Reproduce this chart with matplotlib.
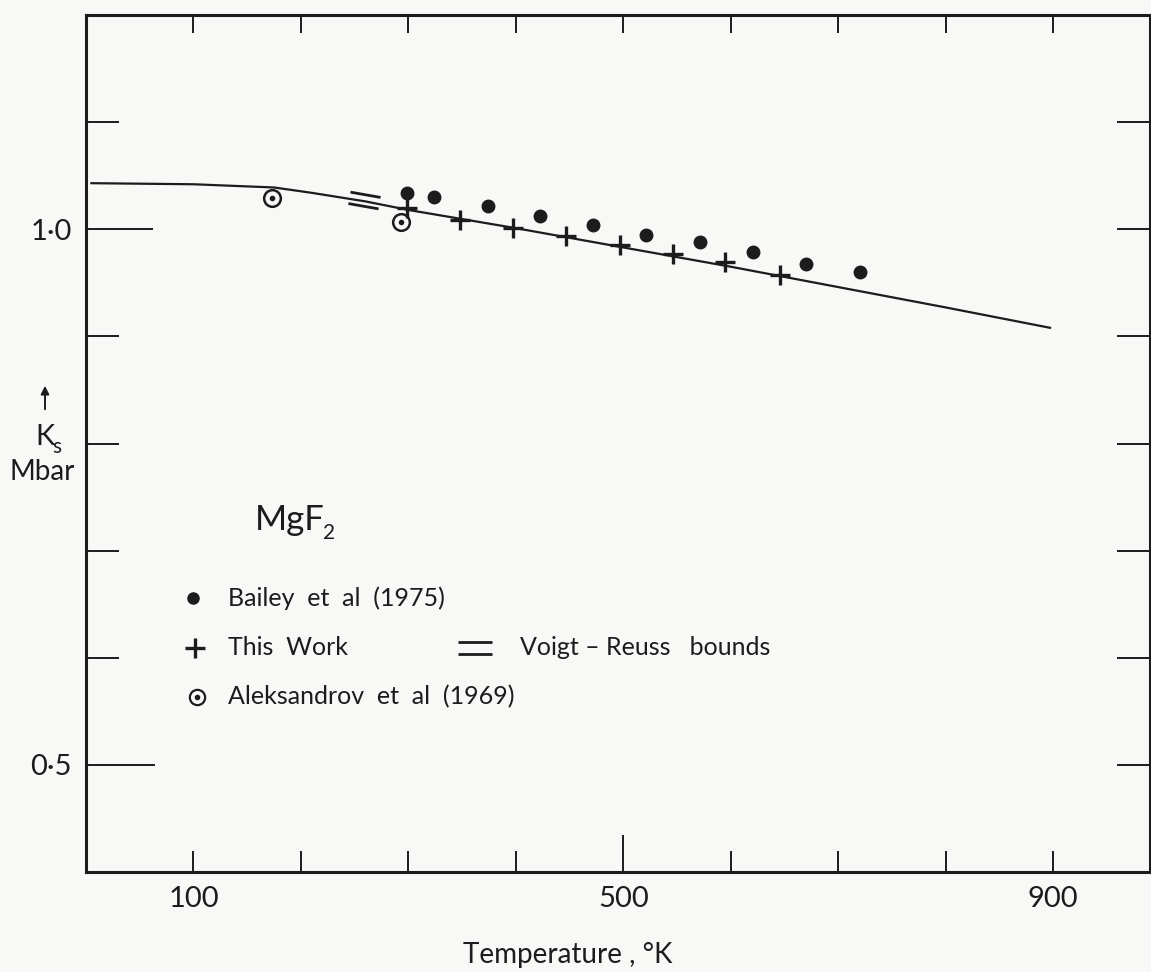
import matplotlib.pyplot as plt
from matplotlib.path import Path
from matplotlib.markers import MarkerStyle
from matplotlib.transforms import Affine2D

# Voigt-Reuss averaged curve
curve_T = [5, 100, 175, 210, 260, 300, 400, 500, 600, 700, 800, 897]
curve_K = [1.043, 1.042, 1.039, 1.034, 1.026, 1.018, 1.001, 0.983, 0.965, 0.946, 0.927, 0.908]

# Bailey et al (1975)
bailey_T = [299, 324, 374, 422, 472, 521, 571, 621, 670, 720]
bailey_K = [1.034, 1.030, 1.022, 1.012, 1.004, 0.995, 0.988, 0.979, 0.968, 0.960]

# This work
work_T = [299, 348, 397, 447, 497, 546, 595, 646]
work_K = [1.020, 1.009, 1.001, 0.994, 0.985, 0.977, 0.969, 0.957]

# Aleksandrov et al (1969)
alek_T = [173, 293]
alek_K = [1.029, 1.007]

# Voigt-Reuss bounds mark
vr_T = [259]
vr_K = [1.027]

x_ticks = [100, 200, 300, 400, 500, 600, 700, 800, 900]
x_labels = ["100", "", "", "", "500", "", "", "", "900"]
y_ticks = [0.5, 0.6, 0.7, 0.8, 0.9, 1.0, 1.1]
y_labels = ["0·5", "", "", "", "", "1·0", ""]

ink = "#1c1c1c"
plt.rcParams["font.family"] = ["Lato", "DejaVu Sans"]

fig = plt.figure(figsize=(11.51, 9.72), dpi=100, facecolor="#f8f8f6")
ax = fig.add_axes([86 / 1151, 100 / 972, 1064 / 1151, 857 / 972])
ax.set_facecolor("#f8f8f6")

# two short parallel strokes for the bounds symbol
eq_path = Path([(-1, 0.38), (1, 0.38), (-1, -0.38), (1, -0.38)],
               [Path.MOVETO, Path.LINETO, Path.MOVETO, Path.LINETO])
eq_tilted = MarkerStyle(eq_path, transform=Affine2D().rotate_deg(-10))

ax.plot(curve_T, curve_K, color=ink, lw=1.6)
ax.plot(bailey_T, bailey_K, "o", color=ink, ms=9, ls="none")
ax.plot(work_T, work_K, "+", color=ink, ms=15, mew=2.4, ls="none")
ax.plot(alek_T, alek_K, "o", mfc="none", mec=ink, ms=12, mew=1.8, ls="none")
ax.plot(alek_T, alek_K, "o", color=ink, ms=3, ls="none")
ax.plot(vr_T, vr_K, marker=eq_tilted, color=ink, ms=22, mew=2.0, ls="none")

ax.set_xlim(0, 990)
ax.set_ylim(0.4, 1.2)

for s in ax.spines.values():
    s.set_linewidth(2.2)
    s.set_color(ink)

ax.set_xticks(x_ticks)
ax.set_xticklabels(x_labels, fontsize=21)
ax.set_yticks(y_ticks)
ax.set_yticklabels(y_labels, fontsize=21)
ax.tick_params(axis="x", direction="in", length=15, width=1.4, color=ink,
               top=True, pad=10, labelcolor=ink)
ax.tick_params(axis="y", direction="in", length=24, width=1.4, color=ink,
               right=True, pad=10, labelcolor=ink)
for t in ax.xaxis.get_major_ticks():
    t.tick2line.set_markersize(13)
ax.xaxis.get_major_ticks()[4].tick1line.set_markersize(27)
ax.yaxis.get_major_ticks()[0].tick1line.set_markersize(50)
ax.yaxis.get_major_ticks()[5].tick1line.set_markersize(48)

# legend drawn by hand, as on the original
ax.text(0.159, 0.411, "MgF", fontsize=25, color=ink, transform=ax.transAxes, va="center")
ax.text(0.223, 0.395, "2", fontsize=15, color=ink, transform=ax.transAxes, va="center")
ax.plot([0.1006], [0.3197], "o", color=ink, ms=8, transform=ax.transAxes, clip_on=False)
ax.text(0.1335, 0.3197, "Bailey  et  al  (1975)", fontsize=18, color=ink,
        transform=ax.transAxes, va="center")
ax.plot([0.1024], [0.2614], "+", color=ink, ms=15, mew=2.4, transform=ax.transAxes)
ax.text(0.1335, 0.2614, "This  Work", fontsize=18, color=ink,
        transform=ax.transAxes, va="center")
ax.plot([0.3656], [0.2614], marker=MarkerStyle(eq_path), color=ink, ms=24, mew=2.0,
        transform=ax.transAxes)
ax.text(0.408, 0.2614, "Voigt – Reuss   bounds", fontsize=18, color=ink,
        transform=ax.transAxes, va="center")
ax.plot([0.1043], [0.2042], "o", mfc="none", mec=ink, ms=11, mew=1.6, transform=ax.transAxes)
ax.plot([0.1043], [0.2042], "o", color=ink, ms=3, transform=ax.transAxes)
ax.text(0.1335, 0.2042, "Aleksandrov  et  al  (1969)", fontsize=18, color=ink,
        transform=ax.transAxes, va="center")

# axis titles
fig.text(568 / 1151, 1 - 955 / 972, "Temperature , °K", fontsize=20, color=ink,
         ha="center", va="center")
fig.text(45 / 1151, 1 - 437 / 972, "K", fontsize=21, color=ink, ha="center", va="center")
fig.text(57 / 1151, 1 - 447 / 972, "s", fontsize=15, color=ink, ha="center", va="center")
fig.text(42 / 1151, 1 - 472 / 972, "Mbar", fontsize=20, color=ink, ha="center", va="center")
ax.annotate("", xy=(45 / 1151, 1 - 383 / 972), xytext=(45 / 1151, 1 - 412 / 972),
            xycoords="figure fraction", textcoords="figure fraction",
            arrowprops=dict(arrowstyle="-|>", color=ink, lw=1.4, mutation_scale=12))

fig.savefig("out.png", dpi=100, facecolor=fig.get_facecolor())
